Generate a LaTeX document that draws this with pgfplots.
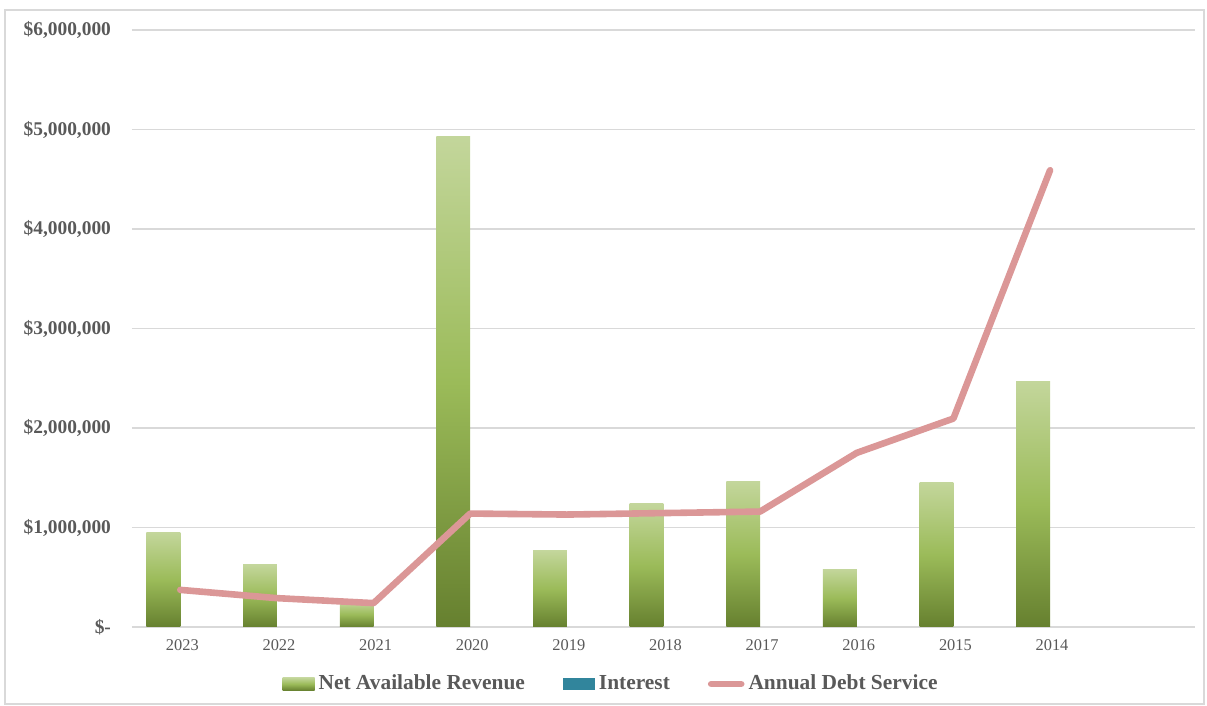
\documentclass[border=0pt]{standalone}
\usepackage{pgfplots}
\pgfplotsset{compat=1.18}
\usepackage{fontspec}
\setmainfont{Liberation Serif}
\definecolor{txt}{HTML}{595959}
\definecolor{gridc}{HTML}{D9D9D9}
\definecolor{gtop}{HTML}{C3D69B}
\definecolor{gmid}{HTML}{9BBB59}
\definecolor{gbot}{HTML}{66802F}
\definecolor{intcol}{HTML}{31859C}
\definecolor{ads}{HTML}{DB9797}
\pgfplotsset{
  nar/.style={ybar, bar width=0.35, bar shift=-0.175, draw=none,
    top color=gtop, bottom color=gbot, middle color=gmid},
}
\begin{document}
\begin{tikzpicture}
\begin{axis}[
  scale only axis, width=531.5pt, height=298.5pt,
  at={(0,0)}, anchor=south west,
  xmin=-0.5, xmax=10.5, ymin=0, ymax=6000000,
  axis x line*=bottom, axis y line*=left,
  axis line style={draw=none},
  major tick length=0pt,
  ymajorgrids, grid style={gridc, line width=0.7pt},
  ytick={0,1000000,2000000,3000000,4000000,5000000,6000000},
  yticklabels={{\$-},{\$1,000,000},{\$2,000,000},{\$3,000,000},{\$4,000,000},{\$5,000,000},{\$6,000,000}},
  scaled y ticks=false,
  yticklabel style={font=\bfseries\fontsize{9.7}{11}\selectfont, text=txt, anchor=east, xshift=-7pt},
  xtick={0,1,2,3,4,5,6,7,8,9},
  xticklabels={2023,2022,2021,2020,2019,2018,2017,2016,2015,2014},
  xticklabel style={font=\fontsize{8.2}{10}\selectfont, text=txt, yshift=-3pt, xshift=1pt},
  legend style={at={(0.4516,-0.0955)}, anchor=center, draw=none, fill=none,
    legend columns=3, font=\bfseries\fontsize{10.7}{12}\selectfont, text=txt,
    /tikz/every even column/.append style={column sep=17pt}},
  legend cell align=left,
]
\addplot[nar,
  legend image code/.code={\shade[top color=gtop, bottom color=gbot, middle color=gmid] (0pt,-3.2pt) rectangle (16pt,3.2pt);}]
  coordinates {(0,947000)};
\addlegendentry{Net Available Revenue}
\addplot[nar, forget plot] coordinates {(1,624000)};
\addplot[nar, forget plot] coordinates {(2,250000)};
\addplot[nar, forget plot] coordinates {(3,4925000)};
\addplot[nar, forget plot] coordinates {(4,765000)};
\addplot[nar, forget plot] coordinates {(5,1238000)};
\addplot[nar, forget plot] coordinates {(6,1460000)};
\addplot[nar, forget plot] coordinates {(7,580000)};
\addplot[nar, forget plot] coordinates {(8,1450000)};
\addplot[nar, forget plot] coordinates {(9,2467000)};
\addplot[ybar, bar width=0.35, bar shift=0.175, draw=none, fill=none,
  legend image code/.code={\fill[intcol] (0pt,-3.2pt) rectangle (16pt,3.2pt);}]
  coordinates {(0,0) (1,0) (2,0) (3,0) (4,0) (5,0) (6,0) (7,0) (8,0) (9,0)};
\addlegendentry{Interest}
\addplot[ads, line width=3.3pt, line join=round, line cap=round, mark=none,
  legend image code/.code={\draw[ads, line width=3.3pt, line cap=round] (1pt,0pt) -- (16pt,0pt);}]
  coordinates {(0,373000) (1,290000) (2,240000) (3,1140000) (4,1130000) (5,1145000) (6,1160000) (7,1750000) (8,2095000) (9,4590000)};
\addlegendentry{Annual Debt Service}
\end{axis}
\draw[gridc, line width=0.6pt] (-63.5pt,-38.5pt) rectangle (536pt,308.5pt);
\pgfresetboundingbox
\useasboundingbox (-66pt,-39.5pt) rectangle (537.5pt,313.5pt);
\end{tikzpicture}
\end{document}
